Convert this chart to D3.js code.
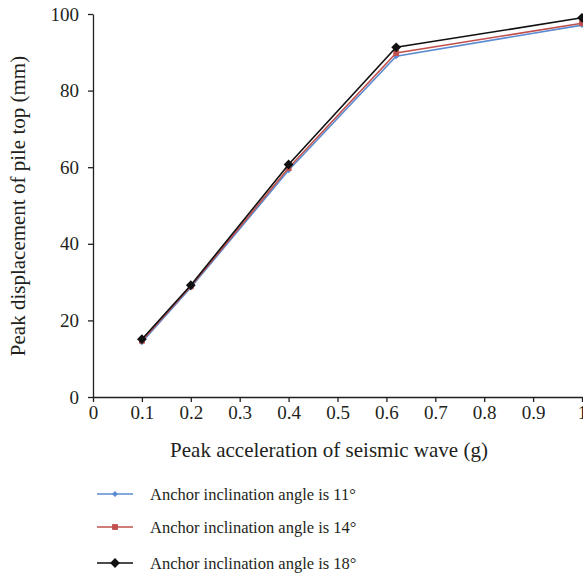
<!DOCTYPE html>
<html><head><meta charset="utf-8">
<script src="https://cdn.jsdelivr.net/npm/d3@7"></script>
<style>body{margin:0;background:#fff}svg{display:block}text{font-family:"Liberation Serif","DejaVu Serif",serif;fill:#231f20}</style>
</head><body><svg id="c" width="583" height="578"></svg>
<script>
const accel = [0.1, 0.2, 0.4, 0.62, 1.0];
const angle11 = [14.3, 28.6, 59.2, 89.0, 97.1];
const angle14 = [14.7, 28.9, 59.8, 89.8, 97.6];
const angle18 = [15.1, 29.2, 60.7, 91.3, 99.0];
const seriesNames = ["Anchor inclination angle is 11°","Anchor inclination angle is 14°","Anchor inclination angle is 18°"];
const xTicks = [0,0.1,0.2,0.3,0.4,0.5,0.6,0.7,0.8,0.9,1];
const yTicks = [0,20,40,60,80,100];

const series = [
  {name: seriesNames[0], values: angle11, color: "#5b8bd0", size: 18, rot: 45},
  {name: seriesNames[1], values: angle14, color: "#c0504d", size: 34, rot: 0},
  {name: seriesNames[2], values: angle18, color: "#111111", size: 48, rot: 45}
];

const svg = d3.select("#c");
const x = d3.scaleLinear().domain([0,1]).range([93,582]);
const y = d3.scaleLinear().domain([0,100]).range([397,14]);

const xAxis = svg.append("g").attr("transform","translate(0,397)")
  .call(d3.axisBottom(x).tickValues(xTicks).tickFormat(d=>d===0?"0":d===1?"1":d3.format(".1f")(d)).tickSize(5).tickSizeOuter(0));
const yAxis = svg.append("g").attr("transform","translate(93,0)")
  .call(d3.axisLeft(y).tickValues(yTicks).tickSize(5).tickSizeOuter(0));
[xAxis,yAxis].forEach(g=>{
  g.selectAll("path,line").attr("stroke","#231f20").attr("stroke-width",1.3);
  g.selectAll("text").style("font-size","19px").attr("fill","#231f20");
});
xAxis.selectAll("text").attr("y",9);
yAxis.selectAll("text").attr("x",-14);

const line = d3.line().x((d,i)=>x(accel[i])).y(d=>y(d));
series.forEach(s=>{
  svg.append("path").datum(s.values).attr("d",line).attr("fill","none")
    .attr("stroke",s.color).attr("stroke-width",1.6);
  svg.selectAll(null).data(s.values).enter().append("path")
    .attr("d",d3.symbol().type(d3.symbolSquare).size(s.size))
    .attr("transform",(d,i)=>`translate(${x(accel[i])},${y(d)}) rotate(${s.rot})`)
    .attr("fill",s.color);
});

svg.append("text").attr("x",329).attr("y",457).attr("text-anchor","middle")
  .style("font-size","21px").text("Peak acceleration of seismic wave (g)");
svg.append("text").attr("transform","translate(25,206) rotate(-90)").attr("text-anchor","middle")
  .style("font-size","21px").text("Peak displacement of pile top (mm)");

const legY = [494,527,563];
series.forEach((s,i)=>{
  const g = svg.append("g").attr("transform",`translate(0,${legY[i]})`);
  g.append("line").attr("x1",97).attr("x2",133).attr("y1",0).attr("y2",0).attr("stroke",s.color).attr("stroke-width",1.6);
  g.append("path").attr("d",d3.symbol().type(d3.symbolSquare).size(s.size)).attr("transform",`translate(115,0) rotate(${s.rot})`).attr("fill",s.color);
  g.append("text").attr("x",150).attr("y",0).attr("dy","0.35em").style("font-size","16.5px").text(s.name);
});
</script></body></html>
